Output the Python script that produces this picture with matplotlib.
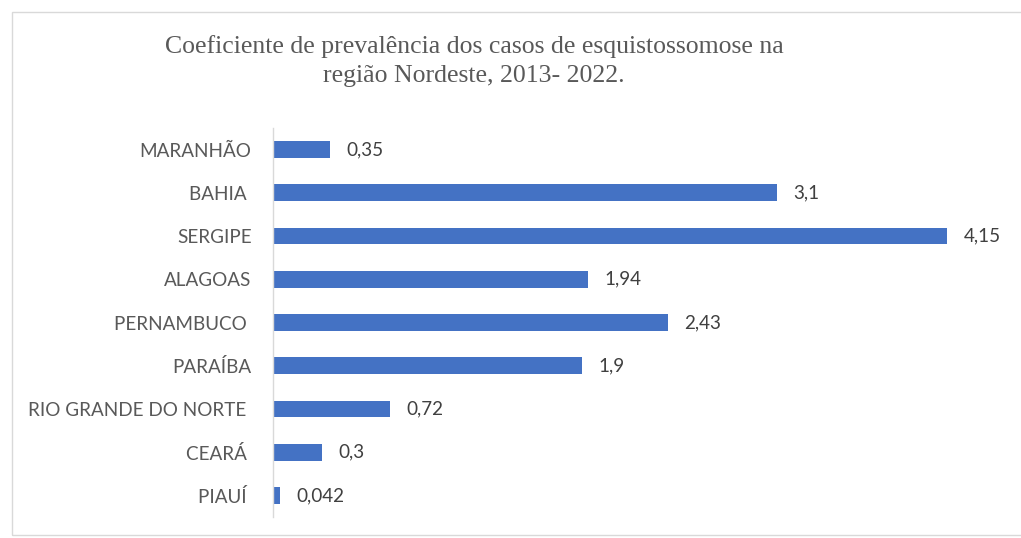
import matplotlib
matplotlib.use("Agg")
import matplotlib.pyplot as plt
from matplotlib.patches import Rectangle

categories = ["MARANHÃO", "BAHIA ", "SERGIPE", "ALAGOAS", "PERNAMBUCO ",
              "PARAÍBA", "RIO GRANDE DO NORTE ", "CEARÁ ", "PIAUÍ "]
values = [0.35, 3.1, 4.15, 1.94, 2.43, 1.9, 0.72, 0.3, 0.042]
value_labels = ["0,35", "3,1", "4,15", "1,94", "2,43", "1,9", "0,72", "0,3", "0,042"]
title = "Coeficiente de prevalência dos casos de esquistossomose na\nregião Nordeste, 2013- 2022."

W, H = 1021, 538
fig = plt.figure(figsize=(W / 100, H / 100), dpi=100)
fig.patch.set_facecolor("white")

# chart border
fig.patches.append(Rectangle((12 / W, 3 / H), (1030 - 12) / W, (526 - 3) / H,
                             transform=fig.transFigure, fill=False,
                             edgecolor="#d9d9d9", linewidth=1.0))

ax_left, ax_right = 273 / W, 1004 / W
ax_top, ax_bottom = 1 - 128 / H, 1 - 517 / H
ax = fig.add_axes([ax_left, ax_bottom, ax_right - ax_left, ax_top - ax_bottom])

ypos = list(range(len(categories)))
ax.barh(ypos, values, height=0.39, color="#4472C4")
ax.set_ylim(len(categories) - 0.5, -0.5)
ax.set_xlim(0, 4.5)
ax.set_yticks(ypos)
ax.set_yticklabels(categories, fontfamily="Lato", fontsize=13.6, color="#595959")
ax.tick_params(axis="y", length=0, pad=15.5)
ax.set_xticks([])
for s in ["top", "right", "bottom"]:
    ax.spines[s].set_visible(False)
ax.spines["left"].set_color("#d9d9d9")
ax.spines["left"].set_linewidth(1.0)

for y, v, lab in zip(ypos, values, value_labels):
    ax.annotate(lab, (v, y), xytext=(12, 0), textcoords="offset points",
                va="center", ha="left", fontfamily="Lato", fontsize=13.6,
                color="#404040")

fig.text(474 / W, 1 - 61 / H, title, ha="center", va="center",
         fontfamily="Liberation Serif", fontsize=18.5, color="#595959",
         linespacing=1.45)

fig.savefig("out.png", dpi=100)
